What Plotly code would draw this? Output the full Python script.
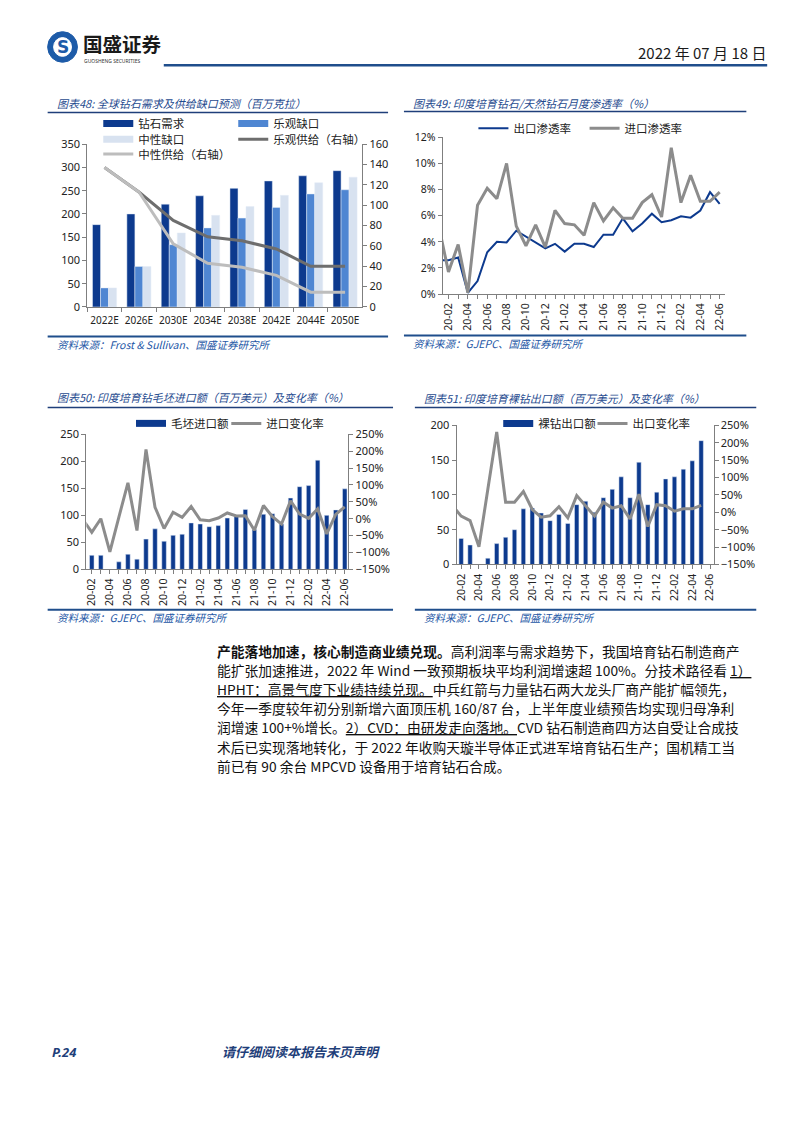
import plotly.graph_objects as go

W, H = 794, 1123
CJK = "Noto Sans CJK SC"
NUM = "Noto Sans, Noto Sans CJK SC"

def px(x):
    return x / W

def py(y):
    return 1 - y / H

# ---------------- data ----------------
# Chart 48
years48 = ["2022E", "2026E", "2030E", "2034E", "2038E", "2042E", "2044E", "2050E"]
demand48 = [177, 200, 221, 239, 255, 271, 282, 293]
gap_opt48 = [41, 87, 134, 170, 191, 214, 243, 252]
gap_neu48 = [41, 87, 159, 197, 216, 240, 267, 279]
supply_opt48 = [137, 113, 85, 69, 65, 57, 40, 40]
supply_neu48 = [137, 113, 62, 43, 39, 31, 14.5, 14.5]

# Monthly categories (charts 49-51)
months = ["20-01", "20-02", "20-03", "20-04", "20-05", "20-06", "20-07", "20-08", "20-09", "20-10",
          "20-11", "20-12", "21-01", "21-02", "21-03", "21-04", "21-05", "21-06", "21-07", "21-08",
          "21-09", "21-10", "21-11", "21-12", "22-01", "22-02", "22-03", "22-04", "22-05", "22-06"]
month_ticks = ["20-02", "20-04", "20-06", "20-08", "20-10", "20-12", "21-02", "21-04", "21-06",
               "21-08", "21-10", "21-12", "22-02", "22-04", "22-06"]

# Chart 49 (%)
export_pen49 = [2.6, 2.6, 2.8, 0.1, 1.0, 3.2, 4.0, 3.95, 4.85, 4.4, 4.0, 3.5,
                3.85, 3.25, 3.85, 3.85, 3.6, 4.55, 4.55, 5.8, 4.8, 5.4, 6.15, 5.5,
                5.65, 5.95, 5.85, 6.4, 7.8, 6.9]
import_pen49 = [5.2, 1.7, 3.8, 0.1, 6.8, 8.1, 7.3, 10.0, 5.2, 3.7, 5.3, 3.6,
                6.4, 5.4, 5.3, 4.5, 7.0, 5.6, 6.6, 5.8, 5.8, 7.0, 7.6, 5.9,
                11.2, 7.0, 9.1, 7.1, 7.1, 7.8]

# Chart 50
rough_import50 = [None, 26, 26, 0, 14, 28, 19, 56, 75, 52, 63, 65,
                  86, 84, 79, 81, 95, 98, 111, 74, 102, 103, 84, 132,
                  153, 155, 202, 100, 110, 149]
import_chg50 = [-2, -40, 0, -98, 5, 106, -35, 205, 34, -29, 19, 4,
                36, -3, -6, 2, 17, 8, 9, -34, 39, 6, -16, 53,
                14, 1, 29, -45, 13, 35]

# Chart 51
polished_export51 = [None, 37.5, 28, 0, 9, 30, 39, 50, 80, 81, 74, 63,
                     72, 59, 86, 91, 75, 96, 108, 126, 96, 147, 86, 104,
                     123, 126, 137, 149, 178, None]
export_chg51 = [20, -11, -24, -99, 66, 231, 29, 29, 60, 8, -14, -10,
                16, -16, 48, 20, -11, 29, 12, 19, -19, 52, -41, 22,
                19, 3, 10, 10, 20, None]

# ---------------- colours ----------------
NAVY = "#0D3A8E"
MIDBLUE = "#4F86D2"
LIGHTBLUE = "#D8E2F0"
DARKGRAY = "#6E6E6E"
LIGHTGRAY = "#BDBDBD"
GRAY = "#8C8C8C"
TITLE_C = "#1F4B8F"
AXIS_C = "#7F7F7F"

fig = go.Figure()

# ---------- Chart 48 ----------
fig.add_trace(go.Bar(x=years48, y=demand48, marker_color=NAVY, xaxis="x", yaxis="y",
                     showlegend=False, name="钻石需求"))
fig.add_trace(go.Bar(x=years48, y=gap_opt48, marker_color=MIDBLUE, xaxis="x", yaxis="y",
                     showlegend=False, name="乐观缺口"))
fig.add_trace(go.Bar(x=years48, y=gap_neu48, marker_color=LIGHTBLUE, xaxis="x", yaxis="y",
                     showlegend=False, name="中性缺口"))
fig.add_trace(go.Scatter(x=years48, y=supply_opt48, mode="lines", line=dict(color=DARKGRAY, width=3),
                         xaxis="x", yaxis="y2", name="乐观供给（右轴）", legend="legend4"))
fig.add_trace(go.Scatter(x=years48, y=supply_neu48, mode="lines", line=dict(color=LIGHTGRAY, width=3),
                         xaxis="x", yaxis="y2", name="中性供给（右轴）", legend="legend5"))
for nm, col, lg in [("钻石需求", NAVY, "legend"), ("乐观缺口", MIDBLUE, "legend2"), ("中性缺口", LIGHTBLUE, "legend3")]:
    fig.add_trace(go.Scatter(x=[None], y=[None], mode="lines", line=dict(color=col, width=7),
                             xaxis="x", yaxis="y", name=nm, legend=lg))

# ---------- Chart 49 ----------
fig.add_trace(go.Scatter(x=months, y=export_pen49, mode="lines", line=dict(color=NAVY, width=2),
                         xaxis="x2", yaxis="y3", name="出口渗透率", legend="legend6"))
fig.add_trace(go.Scatter(x=months, y=import_pen49, mode="lines", line=dict(color=GRAY, width=3),
                         xaxis="x2", yaxis="y3", name="进口渗透率", legend="legend7"))

# ---------- Chart 50 ----------
fig.add_trace(go.Bar(x=months, y=rough_import50, marker_color=NAVY, width=0.5, xaxis="x3", yaxis="y4",
                     showlegend=False, name="毛坯进口额"))
fig.add_trace(go.Scatter(x=[None], y=[None], mode="lines", line=dict(color=NAVY, width=7),
                         xaxis="x3", yaxis="y4", name="毛坯进口额", legend="legend8"))
fig.add_trace(go.Scatter(x=months, y=import_chg50, mode="lines", line=dict(color=GRAY, width=3),
                         xaxis="x3", yaxis="y5", name="进口变化率", legend="legend9"))

# ---------- Chart 51 ----------
fig.add_trace(go.Bar(x=months, y=polished_export51, marker_color=NAVY, width=0.5, xaxis="x4", yaxis="y6",
                     showlegend=False, name="裸钻出口额"))
fig.add_trace(go.Scatter(x=[None], y=[None], mode="lines", line=dict(color=NAVY, width=7),
                         xaxis="x4", yaxis="y6", name="裸钻出口额", legend="legend10"))
fig.add_trace(go.Scatter(x=months, y=export_chg51, mode="lines", line=dict(color=GRAY, width=3),
                         xaxis="x4", yaxis="y7", name="出口变化率", legend="legend11"))

tickfont = dict(family=NUM, size=10.5, color="#222")
axis_common = dict(showline=True, linecolor=AXIS_C, linewidth=1, ticks="outside", ticklen=4,
                   tickcolor=AXIS_C, showgrid=False, zeroline=False, tickfont=tickfont, fixedrange=True)

month_axis = dict(axis_common, type="category", categoryorder="array", categoryarray=months,
                  tickmode="array", tickvals=months,
                  ticktext=[m if m in month_ticks else "" for m in months], tickangle=-90)

layout = dict(
    width=W, height=H, autosize=False,
    margin=dict(l=0, r=0, t=0, b=0),
    paper_bgcolor="white", plot_bgcolor="rgba(0,0,0,0)",
    barmode="group", bargap=0.3, bargroupgap=0,
    # chart 48
    xaxis=dict(axis_common, domain=[px(85), px(362)], anchor="y", type="category",
               tickson="boundaries", tickangle=0, ticklabelstandoff=4,
               tickfont=dict(family=NUM, size=10, color="#222")),
    yaxis=dict(axis_common, domain=[py(303), py(138)], anchor="x", range=[0, 350], dtick=50,
               tickfont=dict(family=NUM, size=11, color="#222")),
    yaxis2=dict(axis_common, overlaying="y", side="right", anchor="x", range=[0, 160], dtick=20,
                tickfont=dict(family=NUM, size=11, color="#222")),
    # chart 49
    xaxis2=dict(month_axis, domain=[px(443), px(728)], anchor="y3", range=[0.4, 29.6]),
    yaxis3=dict(axis_common, domain=[py(290), py(131)], anchor="x2", range=[0, 12], dtick=2,
                ticksuffix="%", tickfont=dict(family=NUM, size=10.5, color="#222")),
    # chart 50
    xaxis3=dict(month_axis, domain=[px(84), px(348)], anchor="y4", range=[0.4, 29.4]),
    yaxis4=dict(axis_common, domain=[py(569), py(432)], anchor="x3", range=[0, 250], dtick=50,
                tickfont=dict(family=NUM, size=11, color="#222")),
    yaxis5=dict(axis_common, overlaying="y4", side="right", anchor="x3", range=[-150, 250], dtick=50,
                ticksuffix="%", tickfont=dict(family=NUM, size=11, color="#222")),
    # chart 51
    xaxis4=dict(month_axis, domain=[px(457), px(716)], anchor="y6", range=[0.48, 29.4]),
    yaxis6=dict(axis_common, domain=[py(564), py(423)], anchor="x4", range=[0, 200], dtick=50,
                tickfont=dict(family=NUM, size=11, color="#222")),
    yaxis7=dict(axis_common, overlaying="y6", side="right", anchor="x4", range=[-150, 250], dtick=50,
                ticksuffix="%", tickfont=dict(family=NUM, size=11, color="#222")),
)

legend_pos = {
    "legend": (96, 117), "legend2": (232, 117), "legend3": (96, 133), "legend4": (232, 133),
    "legend5": (96, 148),
    "legend6": (474, 122), "legend7": (586, 122),
    "legend8": (129, 421), "legend9": (225, 421),
    "legend10": (499, 421), "legend11": (594, 421),
}
for lg, (lx, ly) in legend_pos.items():
    layout[lg] = dict(x=px(lx), y=py(ly), xanchor="left", yanchor="middle", bgcolor="rgba(0,0,0,0)",
                      borderwidth=0, font=dict(family=CJK, size=11.5, color="#222"), itemwidth=30,
                      orientation="v")

fig.update_layout(**layout)

shapes = []
annotations = []

# header
shapes.append(dict(type="line", xref="paper", yref="paper", x0=px(162), x1=px(770), y0=py(58), y1=py(58),
                   line=dict(color="#1F4E8C", width=2.5)))
shapes.append(dict(type="circle", xref="paper", yref="paper", x0=px(45), x1=px(75), y0=py(55), y1=py(24),
                   fillcolor="#1D5BA8", line=dict(color="#1D5BA8", width=1)))
shapes.append(dict(type="circle", xref="paper", yref="paper", x0=px(51), x1=px(69), y0=py(49), y1=py(30),
                   fillcolor="white", line=dict(color="white", width=1)))
annotations.append(dict(text="<b>S</b>", x=px(60), y=py(39.5), xref="paper", yref="paper", showarrow=False,
                        font=dict(family="DejaVu Sans", size=17, color="#1D5BA8"), xanchor="center", yanchor="middle"))
annotations.append(dict(text="<b>国盛证券</b>", x=px(79), y=py(36), xref="paper", yref="paper", showarrow=False,
                        font=dict(family=CJK, size=19.5, color="#1a1a1a"), xanchor="left", yanchor="middle"))
annotations.append(dict(text="GUOSHENG SECURITIES", x=px(80), y=py(54), xref="paper", yref="paper", showarrow=False,
                        font=dict(family=NUM, size=5, color="#333"), xanchor="left", yanchor="middle"))
annotations.append(dict(text="2022 年 07 月 18 日", x=px(771), y=py(45), xref="paper", yref="paper", showarrow=False,
                        font=dict(family="Liberation Sans Narrow, Noto Sans CJK SC", size=15, color="#1a1a1a"),
                        xanchor="right", yanchor="middle"))

frames = [
    (45, 388, 96, 106, 333, 340, "图表48: 全球钻石需求及供给缺口预测（百万克拉）",
     "资料来源：Frost & Sullivan、国盛证券研究所"),
    (404, 749, 96, 105, 332, 339, "图表49: 印度培育钻石/天然钻石月度渗透率（%）",
     "资料来源：GJEPC、国盛证券研究所"),
    (45, 393, 394, 405, 610, 617, "图表50: 印度培育钻毛坯进口额（百万美元）及变化率（%）",
     "资料来源：GJEPC、国盛证券研究所"),
    (415, 759, 395, 405, 610, 617, "图表51: 印度培育裸钻出口额（百万美元）及变化率（%）",
     "资料来源：GJEPC、国盛证券研究所"),
]
for x0, x1, ty, ly, sly, sty, title, src in frames:
    annotations.append(dict(text=title, x=px(x0 + 7), y=py(ty), xref="paper", yref="paper", showarrow=False,
                            font=dict(family=CJK, size=11, color=TITLE_C, style="italic"),
                            xanchor="left", yanchor="middle"))
    shapes.append(dict(type="line", xref="paper", yref="paper", x0=px(x0), x1=px(x1), y0=py(ly), y1=py(ly),
                       line=dict(color="#1F3F7A", width=1.5)))
    shapes.append(dict(type="line", xref="paper", yref="paper", x0=px(x0), x1=px(x1), y0=py(sly), y1=py(sly),
                       line=dict(color="#1F4E8C", width=2)))
    annotations.append(dict(text=src, x=px(x0 + 7), y=py(sty + 1), xref="paper", yref="paper", showarrow=False,
                            font=dict(family=CJK, size=10.5, color="#2457A6", style="italic"),
                            xanchor="left", yanchor="middle"))

para = [
    "<b>产能落地加速，核心制造商业绩兑现。</b>高利润率与需求趋势下，我国培育钻石制造商产",
    "能扩张加速推进，2022 年 Wind 一致预期板块平均利润增速超 100%。分技术路径看 <u>1）</u>",
    "<u>HPHT：高景气度下业绩持续兑现。</u>中兵红箭与力量钻石两大龙头厂商产能扩幅领先，",
    "今年一季度较年初分别新增六面顶压机 160/87 台，上半年度业绩预告均实现归母净利",
    "润增速 100+%增长。<u>2）CVD：由研发走向落地。</u>CVD 钻石制造商四方达自受让合成技",
    "术后已实现落地转化，于 2022 年收购天璇半导体正式进军培育钻石生产；国机精工当",
    "前已有 90 余台 MPCVD 设备用于培育钻石合成。",
]
for i, line in enumerate(para):
    annotations.append(dict(text=line, x=px(214), y=py(652 + i * 19.3), xref="paper", yref="paper",
                            showarrow=False, font=dict(family=CJK, size=13.75, color="#111"),
                            xanchor="left", yanchor="middle"))

annotations.append(dict(text="<b>P.24</b>", x=px(47), y=py(1058), xref="paper", yref="paper", showarrow=False,
                        font=dict(family=NUM, size=13, color="#1F3F7A", style="italic"),
                        xanchor="left", yanchor="middle"))
annotations.append(dict(text="<b>请仔细阅读本报告末页声明</b>", x=px(219), y=py(1058), xref="paper", yref="paper",
                        showarrow=False, font=dict(family=CJK, size=13, color="#1F3F7A", style="italic"),
                        xanchor="left", yanchor="middle"))

fig.update_layout(shapes=shapes, annotations=annotations)
fig.write_html("out.html", config={"displayModeBar": False},
               post_script="document.body.style.margin='0';document.body.style.padding='0';")
